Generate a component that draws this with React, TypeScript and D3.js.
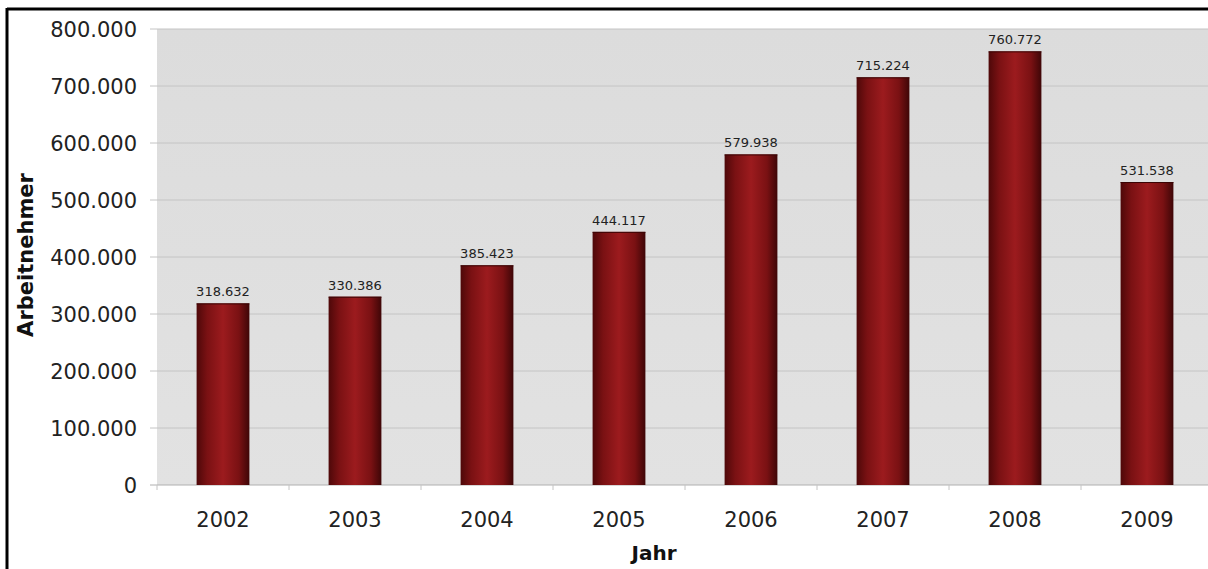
import React from "react";
import * as d3 from "d3";

const years = ["2002", "2003", "2004", "2005", "2006", "2007", "2008", "2009"];
const values = [318632, 330386, 385423, 444117, 579938, 715224, 760772, 531538];
const yTicks = [0, 100000, 200000, 300000, 400000, 500000, 600000, 700000, 800000];

const W = 1208;
const H = 569;
const M = { left: 157, top: 29, right: 1213, bottom: 485 };

const fmt = (v: number) => {
  if (v === 0) return "0";
  const s = String(v);
  return s.replace(/\B(?=(\d{3})+(?!\d))/g, ".");
};

export default function App() {
  const x = d3.scaleBand<string>().domain(years).range([M.left, M.right]).paddingInner(0.6).paddingOuter(0.3);
  const y = d3.scaleLinear().domain([0, 800000]).range([M.bottom, M.top]);
  const step = x.step();
  const font = "'DejaVu Sans', Verdana, sans-serif";
  return (
    <svg width={W} height={H} style={{ position: "absolute", left: 0, top: 0, background: "#fff" }}>
      <defs>
        <linearGradient id="bar" x1="0" x2="1" y1="0" y2="0">
          <stop offset="0" stopColor="#4e0809" />
          <stop offset="0.2" stopColor="#7a1113" />
          <stop offset="0.5" stopColor="#9c1b1e" />
          <stop offset="0.8" stopColor="#7a1113" />
          <stop offset="1" stopColor="#3e0607" />
        </linearGradient>
        <linearGradient id="bg" x1="0" x2="0" y1="0" y2="1">
          <stop offset="0" stopColor="#dcdcdc" />
          <stop offset="1" stopColor="#e2e2e2" />
        </linearGradient>
      </defs>
      <rect x={M.left} y={M.top} width={M.right - M.left} height={M.bottom - M.top} fill="url(#bg)" />
      {yTicks.map((t) => (
        <g key={t}>
          <line x1={M.left - 7} x2={M.right} y1={y(t)} y2={y(t)} stroke={t === 0 ? "#b0b0b0" : "#c4c4c4"} strokeWidth={1} />
          <text x={137} y={y(t)} dy="0.36em" textAnchor="end" fontFamily={font} fontSize={21} fill="#222">
            {fmt(t)}
          </text>
        </g>
      ))}
      {years.map((yr, i) => (
        <line key={"tk" + yr} x1={M.left + step * i} x2={M.left + step * i} y1={M.bottom} y2={M.bottom + 5} stroke="#c4c4c4" />
      ))}
      {years.map((yr, i) => {
        const v = values[i];
        const bx = x(yr) as number;
        const bw = x.bandwidth();
        return (
          <g key={yr}>
            <rect x={bx} y={y(v)} width={bw} height={M.bottom - y(v)} fill="url(#bar)" />
            <line x1={bx} x2={bx + bw} y1={y(v) + 0.5} y2={y(v) + 0.5} stroke="#3a0505" strokeWidth={1} />
            <text x={bx + bw / 2} y={y(v) - 7} textAnchor="middle" fontFamily={font} fontSize={13} fill="#222">
              {fmt(v)}
            </text>
            <text x={bx + bw / 2} y={527} textAnchor="middle" fontFamily={font} fontSize={21} fill="#222">
              {yr}
            </text>
          </g>
        );
      })}
      <text x={654} y={560} textAnchor="middle" fontFamily={font} fontSize={20} fontWeight="bold" fill="#111">
        Jahr
      </text>
      <text transform="translate(33,255) rotate(-90)" textAnchor="middle" fontFamily={font} fontSize={21} fontWeight="bold" fill="#111">
        Arbeitnehmer
      </text>
      <line x1={7} x2={W} y1={9} y2={9} stroke="#000" strokeWidth={3} />
      <line x1={7} x2={7} y1={8} y2={H} stroke="#000" strokeWidth={3} />
    </svg>
  );
}
